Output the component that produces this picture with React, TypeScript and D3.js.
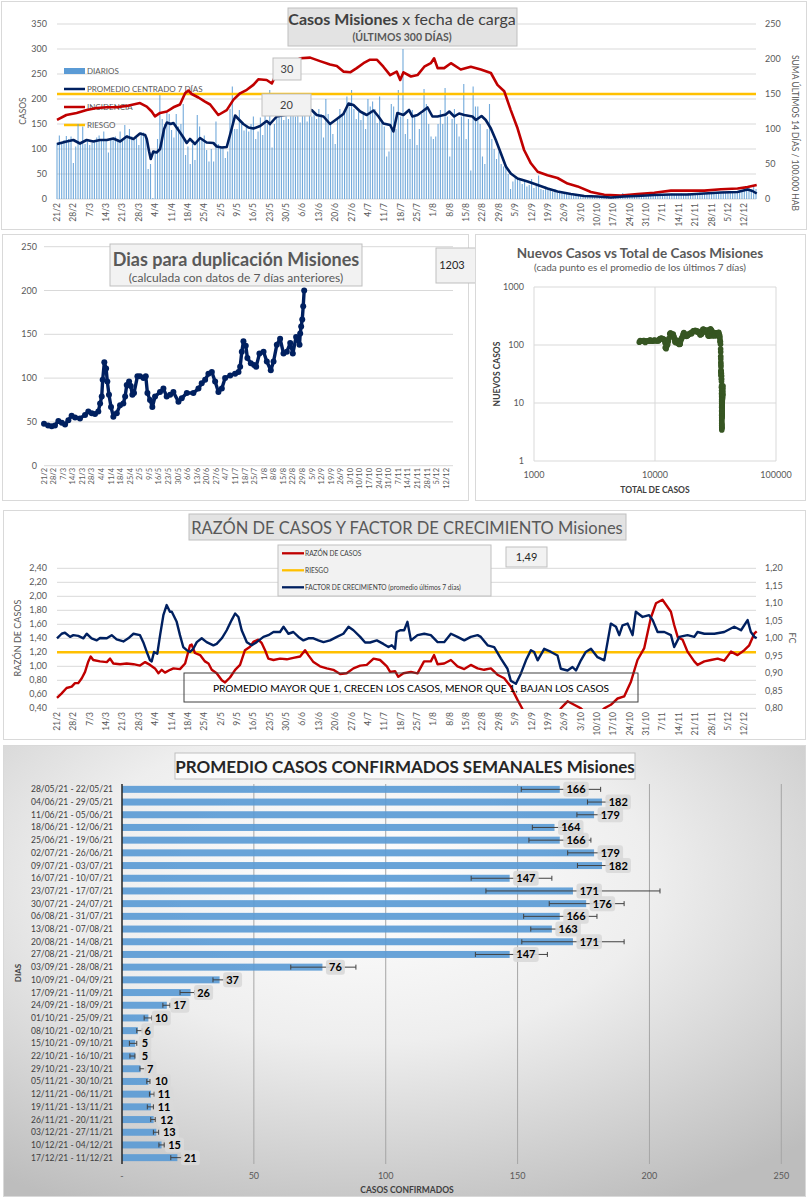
import * as d3 from "d3";

const FONT = "Lato, 'Noto Sans', sans-serif";
const GRIS = "#595959";
const GRID = "#d9d9d9";
const AZUL = "#002060";
const ROJO = "#c00000";
const NARANJA = "#ffc000";
const CELESTE = "#5b9bd5";

// etiquetas semanales del eje x (21/2 a 12/12)
const SEMANAS = [
  "21/2", "28/2", "7/3", "14/3", "21/3", "28/3", "4/4", "11/4", "18/4", "25/4", "2/5",
  "9/5", "16/5", "23/5", "30/5", "6/6", "13/6", "20/6", "27/6", "4/7", "11/7", "18/7",
  "25/7", "1/8", "8/8", "15/8", "22/8", "29/8", "5/9", "12/9", "19/9", "26/9", "3/10",
  "10/10", "17/10", "24/10", "31/10", "7/11", "14/11", "21/11", "28/11", "5/12", "12/12",
];

// casos diarios, 300 días desde 21/2
const DIARIOS = [
  112, 127, 110, 118, 126, 120, 125,
  72, 105, 150, 112, 145, 110, 118,
  108, 112, 115, 123, 127, 120, 135,
  118, 93, 122, 118, 125, 120, 135,
  118, 148, 128, 140, 125, 118, 122,
  108, 133, 133, 125, 60, 70, 2,
  95, 120, 210, 160, 150, 175, 170,
  138, 123, 170, 145, 150, 190, 88,
  105, 70, 110, 78, 168, 145, 120,
  127, 98, 75, 100, 75, 155, 110,
  103, 105, 82, 95, 180, 225, 140,
  140, 178, 150, 137, 145, 135, 150,
  165, 120, 135, 163, 128, 172, 150,
  218, 103, 150, 163, 165, 170, 158,
  185, 160, 175, 210, 165, 180, 153,
  170, 198, 155, 180, 165, 175, 160,
  180, 170, 123, 200, 170, 150, 130,
  110, 160, 180, 170, 175, 205, 185,
  218, 180, 160, 175, 158, 172, 140,
  200, 185, 195, 180, 152, 205, 152,
  145, 85, 95, 190, 185, 140, 218,
  165, 300, 130, 160, 120, 178, 165,
  108, 140, 170, 220, 190, 150, 125,
  120, 125, 150, 178, 150, 222, 165,
  85, 160, 180, 150, 125, 165, 230,
  120, 160, 57, 225, 185, 185, 150,
  85, 70, 140, 190, 120, 100, 80,
  95, 70, 65, 68, 50, 20, 35,
  43, 40, 38, 30, 35, 25, 28,
  40, 22, 30, 47, 20, 18, 25,
  22, 18, 15, 20, 13, 15, 12,
  10, 12, 8, 10, 7, 9, 6,
  7, 5, 6, 4, 6, 5, 4,
  5, 3, 4, 2, 3, 5, 4,
  3, 6, 5, 4, 12, 5, 6,
  6, 5, 7, 6, 8, 7, 6,
  9, 8, 7, 10, 8, 9, 11,
  9, 8, 10, 9, 11, 8, 10,
  9, 11, 10, 8, 12, 10, 11,
  12, 10, 13, 11, 12, 10, 14,
  12, 13, 11, 14, 13, 15, 12,
  14, 16, 13, 15, 14, 17, 16,
  20, 18, 22, 19, 24, 20,
];

// [día, valor]
const PROMEDIO_7D = [
  [0, 110], [4.1, 115], [7, 118], [9.8, 111], [12.7, 118], [15.5, 115], [18.4, 118], [21.3, 118],
  [24.1, 121], [27, 115], [29.8, 125], [32.7, 120], [35.5, 131], [37.7, 128], [38.4, 120], [39.4, 95],
  [40.1, 80], [41.2, 95], [42.6, 93], [44.1, 100], [45.8, 140], [47, 153], [48.6, 150], [49.8, 152],
  [51.9, 138], [53.8, 125], [55.5, 112], [56.9, 120], [59, 110], [61.2, 122], [64, 113], [66.9, 112],
  [68.3, 105], [70.5, 103], [72.6, 104], [74, 128], [76.2, 167], [77.6, 160], [79.7, 150], [81.9, 143],
  [84, 141], [86.9, 146], [89.7, 156], [91.1, 150], [94, 165], [97.6, 168], [101.1, 178], [104, 181],
  [106.1, 170], [108.9, 178], [111.1, 168], [114, 165], [116.8, 150], [119.7, 160], [122.5, 170],
  [124.7, 191], [126.8, 188], [129.7, 175], [132.5, 168], [135.4, 177], [137.5, 165], [139.6, 151],
  [142.5, 148], [143.9, 135], [145.6, 172], [148.2, 168], [150.6, 178], [152, 165], [154.2, 168],
  [156.3, 175], [158.5, 183], [160.6, 165], [162.8, 165], [166.3, 169], [167.8, 175], [169.9, 165],
  [172, 171], [174.2, 168], [177.7, 165], [179.2, 158], [181.6, 166], [183.4, 158], [185.6, 141],
  [187.7, 118], [189.9, 91], [192, 65], [194.1, 51], [197, 41], [201.3, 35], [205.6, 28], [209.8, 21],
  [214.1, 15], [219.8, 10], [225.5, 6], [231.2, 5], [236.9, 3], [242.6, 5], [248.3, 6], [255.5, 8],
  [262.6, 9], [269.7, 9], [276.9, 11], [284, 13], [291.1, 14], [295.4, 19], [297.5, 16], [299.3, 11],
];

const INCIDENCIA = [
  [0, 113], [4, 120], [8.4, 123], [12.7, 127], [17, 130], [21.3, 131], [25.5, 131], [29.8, 133],
  [35.5, 137], [38.4, 132], [40.5, 125], [41.9, 118], [44.1, 123], [47, 125], [49.8, 131], [52.6, 135],
  [54.8, 151], [56.2, 155], [57.6, 150], [60.5, 145], [63.3, 139], [65.5, 135], [69, 120], [72.6, 127],
  [75.5, 142], [78.3, 151], [81.2, 156], [84, 163], [86.1, 171], [89.7, 170], [91.9, 165], [94, 180],
  [96.9, 189], [99.7, 194], [104, 201], [108.3, 202], [112.5, 197], [116.8, 192], [119.7, 190],
  [122.5, 182], [125.4, 181], [128.2, 187], [131.1, 194], [133.9, 199], [136.8, 199], [139.6, 189],
  [142.5, 177], [145.3, 182], [146.8, 170], [148.2, 181], [151.4, 175], [154.2, 177], [157.1, 189],
  [159.9, 194], [161.3, 201], [162.8, 187], [165.6, 187], [168.5, 194], [172.7, 185], [177, 189],
  [181.3, 185], [185.6, 180], [188.4, 163], [191.3, 154], [194.1, 127], [197, 101], [199.8, 70],
  [202.7, 51], [205.6, 39], [209.8, 34], [214.1, 30], [218.4, 22], [222.7, 18], [228.4, 10],
  [234.1, 6], [241.2, 5], [248.3, 7], [255.5, 9], [262.6, 12], [276.9, 12], [284, 14], [291.1, 15],
  [295.4, 17], [299.3, 20],
];
const RIESGO_INCIDENCIA = 150;

// días para duplicación [día, días]
const DUPLICACION = [
  [0, 48], [3, 46], [5.6, 45], [8, 46], [10.5, 51], [13, 49], [15.4, 47], [17.8, 52], [20.2, 57],
  [22.7, 55], [26.3, 54], [30, 58], [32.4, 62], [34.9, 60], [37.3, 59], [39.7, 62], [41, 71],
  [42.2, 79], [42.9, 98], [44.1, 118], [45.4, 111], [46.3, 96], [47.5, 81], [49, 67], [50.7, 56],
  [53.2, 60], [55.6, 69], [58, 71], [59.3, 79], [60.5, 92], [62.2, 96], [63.4, 91], [64.6, 81],
  [65.8, 83], [68.3, 102], [70.2, 102], [72.7, 100], [74.4, 102], [75.6, 83], [77.5, 75], [79.2, 67],
  [81.2, 79], [84.8, 84], [87.3, 88], [89.7, 79], [92.2, 81], [94.6, 84], [98.3, 73], [100.7, 77],
  [104.4, 83], [109.2, 83], [112.9, 88], [115.3, 94], [117.8, 98], [120.2, 105], [122.7, 107],
  [125.1, 96], [127.5, 84], [130, 88], [132.4, 100], [136.1, 103], [139.7, 105], [142.2, 107],
  [143.4, 113], [144.6, 130], [145.8, 142], [147.5, 137], [148.7, 123], [151.2, 117], [153.6, 115],
  [155.1, 113], [157.5, 128], [160.5, 130], [162.9, 119], [165.8, 109], [167.8, 119], [170.2, 138],
  [172.6, 145], [175.1, 128], [177.5, 130], [180, 140], [181.9, 128], [184.3, 147], [186.8, 138],
  [187.3, 151], [188, 159], [188.8, 167], [189.5, 182], [190.2, 200],
];
const DUPLICACION_ACTUAL = "1203";

// total acumulado al 20/2
const TOTAL_INICIAL = 7300;

// razón de casos (eje izq.) y factor de crecimiento (eje der.)
const RAZON = [
  [0, 0.55], [1.9, 0.61], [4.1, 0.69], [6.3, 0.71], [7.7, 0.76], [9.1, 0.76], [10.6, 0.83], [12, 0.92],
  [13.4, 1.07], [14.4, 1.14], [15.5, 1.09], [18.4, 1.07], [21.3, 1.06], [22.7, 1.11], [24.1, 1.04],
  [27, 1.03], [29.8, 1.04], [32.7, 1.03], [35.5, 1.01], [37.7, 1.06], [39.8, 1.02], [41.9, 0.97],
  [43.4, 0.9], [44.8, 0.95], [46.2, 0.91], [48.4, 0.95], [49.8, 0.97], [52.6, 0.96], [54.8, 1.04],
  [56.9, 1.3], [57.6, 1.31], [59, 1.19], [61.2, 1.16], [63.3, 1.07], [64.8, 1.04], [66.2, 0.95],
  [68.3, 0.9], [70.5, 0.8], [71.9, 0.77], [74, 0.84], [76.2, 0.95], [78.3, 1.02], [80.4, 1.23],
  [82.6, 1.28], [84, 1.35], [86.1, 1.38], [87.6, 1.33], [89, 1.23], [90.4, 1.11], [92.6, 1.09],
  [95.4, 1.11], [98.3, 1.1], [101.1, 1.12], [104, 1.14], [106.1, 1.23], [107.5, 1.16], [109.7, 1.06],
  [112.5, 1.0], [115.4, 0.97], [118.2, 0.95], [121.1, 0.89], [123.9, 0.9], [126.8, 0.97], [129.7, 1.01],
  [132.5, 1.02], [135.4, 1.11], [138.2, 1.09], [141.1, 1.0], [142.5, 0.92], [144.6, 0.93], [146, 0.85],
  [148.2, 0.9], [151.4, 0.92], [154.2, 0.9], [157, 1.07], [159.9, 1.07], [161.3, 1.16], [162.8, 1.03],
  [165.6, 1.04], [168.5, 1.09], [171.3, 1.0], [174.2, 0.96], [177, 1.02], [179.9, 0.97], [182.7, 0.95],
  [185.6, 0.97], [188.4, 0.88], [191.3, 0.83], [194.1, 0.71], [197, 0.52], [199.1, 0.39], [201.3, 0.21],
  [204, 0.1], [208.4, 0.05], [212, 0.2], [215.5, 0.4], [218.4, 0.5], [221.2, 0.45], [224.1, 0.4],
  [228.4, 0.26], [231, 0.3], [234.1, 0.4], [236.9, 0.45], [239.8, 0.54], [242.6, 0.57], [245.5, 0.78],
  [248.3, 1.09], [251.2, 1.26], [254, 1.69], [256.2, 1.9], [259, 1.95], [260.5, 1.88], [262.6, 1.78],
  [264, 1.59], [265.5, 1.42], [267.6, 1.38], [269.7, 1.21], [272.6, 1.07], [274, 1.02], [276.9, 1.07],
  [279.7, 1.09], [282.6, 1.11], [285.4, 1.08], [288.3, 1.21], [291.1, 1.16], [294, 1.23], [296.1, 1.3],
  [298.3, 1.47], [299.3, 1.5],
];

const FACTOR = [
  [0, 1.0], [2, 1.013], [3.4, 1.016], [5.6, 1.004], [7, 1.009], [9.1, 1.007], [11.3, 1.0], [12.7, 1.013],
  [14.8, 1.0], [17, 0.994], [18.4, 1.001], [21.3, 1.0], [23.4, 1.009], [25.5, 0.997], [28.4, 0.991],
  [30.5, 1.0], [32.7, 1.013], [35.5, 1.009], [36.9, 0.989], [38.4, 0.961], [39.8, 0.937], [40.5, 0.934],
  [41.5, 0.961], [42.9, 0.956], [44.1, 1.009], [45.5, 1.066], [46.9, 1.095], [48.3, 1.076], [49.1, 1.076],
  [51.2, 1.047], [52.6, 1.009], [54, 0.975], [55.5, 0.966], [56.9, 0.961], [58.3, 0.97], [59.8, 0.989],
  [61.9, 1.0], [64, 0.989], [66.9, 0.98], [68.3, 0.984], [70.5, 1.0], [72.6, 1.023], [74.7, 1.052],
  [76.2, 1.071], [77.6, 1.061], [79, 1.023], [81.2, 0.989], [83.3, 0.98], [85.4, 0.989], [88.3, 1.004],
  [90.4, 1.009], [92.6, 1.018], [95.4, 1.018], [96.9, 1.033], [99, 1.013], [101.1, 1.018], [103.3, 1.004],
  [105.4, 0.994], [107.5, 1.0], [109.7, 1.0], [111.8, 0.994], [114, 0.989], [116.8, 0.994], [119.7, 1.004],
  [122.5, 1.013], [124.7, 1.033], [126.8, 1.023], [129.7, 1.004], [131.8, 0.988], [133.9, 0.988],
  [136.8, 0.994], [139.6, 0.984], [141.8, 0.975], [143.2, 0.98], [144.6, 0.97], [145.3, 1.018],
  [146.8, 1.023], [148.5, 1.023], [149.9, 1.047], [151.4, 0.994], [154.2, 1.009], [157.1, 1.013],
  [159.9, 1.009], [162.8, 0.989], [165.6, 0.989], [168.5, 1.013], [171.3, 1.004], [174.2, 0.994],
  [177, 1.004], [179.9, 1.009], [181.3, 1.004], [184.2, 0.98], [187, 0.975], [189.9, 0.942], [192.7, 0.913],
  [194.1, 0.879], [196.3, 0.87], [198.4, 0.899], [200.6, 0.937], [202.7, 0.966], [204.1, 0.961],
  [205.6, 0.937], [208.4, 0.97], [211.3, 0.961], [214.1, 0.951], [215.5, 0.913], [218.4, 0.908],
  [220.5, 0.918], [222, 0.908], [224.1, 0.937], [226.2, 0.961], [228.4, 0.97], [231.2, 0.946],
  [234.1, 0.937], [236.9, 1.042], [239.1, 1.033], [240.5, 1.009], [241.9, 1.037], [244.1, 1.042],
  [246.2, 1.009], [247.6, 1.076], [250.5, 1.061], [253.3, 1.066], [254.8, 1.052], [256.9, 1.018],
  [259.8, 1.018], [262.6, 1.009], [264, 0.975], [266.2, 1.004], [269.7, 1.009], [272.6, 1.004],
  [274, 1.018], [276.9, 1.013], [281.2, 1.013], [285.4, 1.018], [289.7, 1.033], [292.6, 1.023],
  [295.4, 1.052], [296.8, 1.018], [298.3, 1.004], [299.3, 1.0],
];
const RIESGO_RAZON = 1.2;
const FACTOR_ACTUAL = "1,49";

// promedio semanal
const RANGOS = [
  "28/05/21 - 22/05/21", "04/06/21 - 29/05/21", "11/06/21 - 05/06/21", "18/06/21 - 12/06/21",
  "25/06/21 - 19/06/21", "02/07/21 - 26/06/21", "09/07/21 - 03/07/21", "16/07/21 - 10/07/21",
  "23/07/21 - 17/07/21", "30/07/21 - 24/07/21", "06/08/21 - 31/07/21", "13/08/21 - 07/08/21",
  "20/08/21 - 14/08/21", "27/08/21 - 21/08/21", "03/09/21 - 28/08/21", "10/09/21 - 04/09/21",
  "17/09/21 - 11/09/21", "24/09/21 - 18/09/21", "01/10/21 - 25/09/21", "08/10/21 - 02/10/21",
  "15/10/21 - 09/10/21", "22/10/21 - 16/10/21", "29/10/21 - 23/10/21", "05/11/21 - 30/10/21",
  "12/11/21 - 06/11/21", "19/11/21 - 13/11/21", "26/11/21 - 20/11/21", "03/12/21 - 27/11/21",
  "10/12/21 - 04/12/21", "17/12/21 - 11/12/21",
];
const PROMEDIO_SEMANAL = [166, 182, 179, 164, 166, 179, 182, 147, 171, 176, 166, 163, 171, 147, 76, 37, 26, 17, 10, 6, 5, 5, 7, 10, 11, 11, 12, 13, 15, 21];
const MIN_SEMANAL = [151.4, 176.5, 172.5, 155.6, 154.3, 169, 172.7, 132.4, 138, 162, 152.3, 155, 151.6, 134, 64, 34.5, 22, 15.5, 8.4, 5.6, 2.8, 3, 6.8, 9.4, 10.4, 9.6, 10.9, 11.9, 14, 18.5];
const MAX_SEMANAL = [181.5, 186, 185, 170, 177.8, 185, 186, 163, 204, 190.4, 180.1, 172, 190.4, 161.3, 88.7, 39.5, 27.5, 18.2, 11.3, 7.7, 5.6, 4.9, 9, 10.6, 12.2, 11.9, 12.6, 13.9, 16, 22.7];

const coma = (v: number) => d3.format(".2f")(v).replace(".", ",");

function Caja({ x, y, w, h, fill = "#f2f2f2", stroke = "#bfbfbf" }: any) {
  return <rect x={x} y={y} width={w} height={h} fill={fill} stroke={stroke} strokeWidth={1} />;
}

function PanelCasos() {
  const x = d3.scaleLinear().domain([0, 299]).range([57, 756]);
  const y = d3.scaleLinear().domain([0, 350]).range([199, 24]);
  const y2 = d3.scaleLinear().domain([0, 250]).range([199, 24]);
  const lineaIzq = d3.line<number[]>().x((d) => x(d[0])).y((d) => y(d[1]));
  const lineaDer = d3.line<number[]>().x((d) => x(d[0])).y((d) => y2(d[1]));
  const leyenda = [
    { t: "PROMEDIO CENTRADO 7 DÍAS", c: AZUL, yy: 89 },
    { t: "INCIDENCIA", c: ROJO, yy: 107 },
    { t: "RIESGO", c: NARANJA, yy: 125 },
  ];
  return (
    <g fontFamily={FONT}>
      <rect x={1.5} y={1.5} width={805} height={228} fill="#fff" stroke={GRID} />
      {y.ticks(7).map((t) => (
        <g key={t}>
          <line x1={57} x2={756} y1={y(t)} y2={y(t)} stroke={GRID} />
          <text x={47} y={y(t) + 3} textAnchor="end" fontSize={9} fill={GRIS}>{t}</text>
        </g>
      ))}
      {y2.ticks(5).map((t) => (
        <text key={t} x={765} y={y2(t) + 3} fontSize={9} fill={GRIS}>{t}</text>
      ))}
      <text transform="translate(26,111) rotate(-90)" textAnchor="middle" fontSize={8.5} fill={GRIS}>CASOS</text>
      <text transform="translate(792,133) rotate(90)" textAnchor="middle" fontSize={8.5} fill={GRIS}>
        SUMA  ÚLTIMOS 14 DÍAS / 100.000 HAB
      </text>
      {/* leyenda */}
      <rect x={64} y={68} width={21} height={6} fill={CELESTE} />
      <text x={87} y={73.5} fontSize={8} fill={GRIS}>DIARIOS</text>
      {leyenda.map((l) => (
        <g key={l.t}>
          <line x1={64} x2={85} y1={l.yy} y2={l.yy} stroke={l.c} strokeWidth={2.5} />
          <text x={87} y={l.yy + 3} fontSize={8} fill={GRIS}>{l.t}</text>
        </g>
      ))}
      {DIARIOS.map((v, i) => (
        <rect key={i} x={x(i) - 0.55} y={y(v)} width={1.1} height={y(0) - y(v)} fill={CELESTE} opacity={0.85} />
      ))}
      <line x1={57} x2={756} y1={y2(RIESGO_INCIDENCIA)} y2={y2(RIESGO_INCIDENCIA)} stroke={NARANJA} strokeWidth={2.5} />
      <path d={lineaDer(INCIDENCIA) || ""} fill="none" stroke={ROJO} strokeWidth={2.6} strokeLinejoin="round" />
      <path d={lineaIzq(PROMEDIO_7D) || ""} fill="none" stroke={AZUL} strokeWidth={2.6} strokeLinejoin="round" />
      {SEMANAS.map((s, k) => (
        <text key={s} transform={`translate(${x(k * 7) + 3},203) rotate(-90)`} textAnchor="end" fontSize={8.5} fill={GRIS}>{s}</text>
      ))}
      {/* título */}
      <Caja x={288} y={8} w={229} h={38} fill="#e3e3e3" />
      <text x={402} y={25} textAnchor="middle" fontSize={16} fill="#404040">
        <tspan fontWeight="bold">Casos  Misiones</tspan>
        <tspan>  x fecha  de carga</tspan>
      </text>
      <text x={402} y={40.5} textAnchor="middle" fontSize={10.5} fontWeight="bold" fill={GRIS}>(ÚLTIMOS 300 DÍAS)</text>
      <Caja x={273} y={58} w={28} h={22} />
      <text x={287} y={73} textAnchor="middle" fontSize={11} fill="#404040">30</text>
      <Caja x={262} y={94} w={49} h={22} />
      <text x={286.5} y={109} textAnchor="middle" fontSize={11} fill="#404040">20</text>
    </g>
  );
}

function PanelDuplicacion() {
  const x = d3.scaleLinear().domain([0, 299]).range([44, 453]);
  const y = d3.scaleLinear().domain([0, 250]).range([465.7, 246.7]);
  const linea = d3.line<number[]>().x((d) => x(d[0])).y((d) => y(d[1]));
  return (
    <g fontFamily={FONT}>
      <rect x={2.5} y={234.5} width={466} height={266} fill="#fff" stroke={GRID} />
      {y.ticks(5).map((t) => (
        <g key={t}>
          <line x1={44} x2={453} y1={y(t)} y2={y(t)} stroke={GRID} />
          <text x={37} y={y(t) + 3} textAnchor="end" fontSize={9} fill={GRIS}>{t}</text>
        </g>
      ))}
      {SEMANAS.map((s, k) => (
        <text key={s} transform={`translate(${x(k * 7) + 2.5},468) rotate(-90)`} textAnchor="end" fontSize={7.5} fill={GRIS}>{s}</text>
      ))}
      <path d={linea(DUPLICACION) || ""} fill="none" stroke={AZUL} strokeWidth={3.4} strokeLinejoin="round" />
      {DUPLICACION.map((d, i) => (
        <circle key={i} cx={x(d[0])} cy={y(d[1])} r={3} fill={AZUL} />
      ))}
      <Caja x={110} y={244} w={252} h={42} />
      <text x={236} y={266} textAnchor="middle" fontSize={18} fontWeight="bold" fill={GRIS}>Dias para duplicación Misiones</text>
      <text x={236} y={281.5} textAnchor="middle" fontSize={12} fill={GRIS}>(calculada con datos de 7 días anteriores)</text>
      <Caja x={436} y={248} w={40} h={35} />
      <text x={452} y={269} textAnchor="middle" fontSize={11} fill="#262626">{DUPLICACION_ACTUAL}</text>
    </g>
  );
}

function PanelDispersion() {
  let total = TOTAL_INICIAL;
  const puntos = DIARIOS.map((v, i) => {
    total += v;
    const prom = d3.mean(DIARIOS.slice(Math.max(0, i - 6), i + 1)) as number;
    return [total, prom];
  });
  const x = d3.scaleLog().domain([1000, 100000]).range([534, 776]);
  const y = d3.scaleLog().domain([1, 1000]).range([461, 287]);
  const xt = [1000, 10000, 100000];
  const yt = [1, 10, 100, 1000];
  return (
    <g fontFamily={FONT}>
      <rect x={475.5} y={234.5} width={330} height={266} fill="#fff" stroke={GRID} />
      {yt.map((t) => (
        <g key={t}>
          <line x1={534} x2={776} y1={y(t)} y2={y(t)} stroke={GRID} />
          <text x={524} y={y(t) + 3} textAnchor="end" fontSize={9} fill={GRIS}>{t}</text>
        </g>
      ))}
      {xt.map((t) => (
        <g key={t}>
          <line x1={x(t)} x2={x(t)} y1={287} y2={461} stroke={GRID} />
          <text x={x(t)} y={478} textAnchor="middle" fontSize={9} fill={GRIS}>{t}</text>
        </g>
      ))}
      {puntos.map((p, i) => (
        <circle key={i} cx={x(p[0])} cy={y(p[1])} r={2.8} fill="#375623" />
      ))}
      <text x={640} y={258} textAnchor="middle" fontSize={13.5} fontWeight="bold" fill={GRIS}>Nuevos Casos vs Total de Casos Misiones</text>
      <text x={640} y={271} textAnchor="middle" fontSize={10} fill={GRIS}>(cada punto es el promedio de los últimos 7 días)</text>
      <text transform="translate(500,374) rotate(-90)" textAnchor="middle" fontSize={8.5} fontWeight="bold" fill="#404040">NUEVOS  CASOS</text>
      <text x={655} y={493} textAnchor="middle" fontSize={8.5} fontWeight="bold" fill="#404040">TOTAL DE CASOS</text>
    </g>
  );
}

function PanelRazon() {
  const x = d3.scaleLinear().domain([0, 299]).range([57, 756]);
  const yL = d3.scaleLinear().domain([0.4, 2.4]).range([708.3, 568.3]);
  const yR = d3.scaleLinear().domain([0.8, 1.2]).range([708.3, 568.3]);
  const lineaL = d3.line<number[]>().x((d) => x(d[0])).y((d) => yL(d[1]));
  const lineaR = d3.line<number[]>().x((d) => x(d[0])).y((d) => yR(d[1]));
  const ticksL = d3.range(0, 11).map((i) => 0.4 + i * 0.2);
  const ticksR = d3.range(0, 9).map((i) => 0.8 + i * 0.05);
  return (
    <g fontFamily={FONT}>
      <defs>
        <clipPath id="clipRazon">
          <rect x={50} y={560} width={712} height={149} />
        </clipPath>
      </defs>
      <rect x={3.5} y={510.5} width={802} height={229} fill="#fff" stroke={GRID} />
      {ticksL.map((t) => (
        <g key={t}>
          <line x1={57} x2={756} y1={yL(t)} y2={yL(t)} stroke={GRID} />
          <text x={47} y={yL(t) + 3} textAnchor="end" fontSize={9} fill={GRIS}>{coma(t)}</text>
        </g>
      ))}
      {ticksR.map((t) => (
        <text key={t} x={765} y={yR(t) + 3} fontSize={9} fill={GRIS}>{coma(t)}</text>
      ))}
      <text transform="translate(21,638) rotate(-90)" textAnchor="middle" fontSize={9} fill={GRIS}>RAZÓN  DE CASOS</text>
      <text transform="translate(789,638) rotate(90)" textAnchor="middle" fontSize={9} fill={GRIS}>FC</text>
      {SEMANAS.map((s, k) => (
        <text key={s} transform={`translate(${x(k * 7) + 3},712) rotate(-90)`} textAnchor="end" fontSize={8.5} fill={GRIS}>{s}</text>
      ))}
      <g clipPath="url(#clipRazon)">
        <line x1={57} x2={756} y1={yL(RIESGO_RAZON)} y2={yL(RIESGO_RAZON)} stroke={NARANJA} strokeWidth={2.5} />
        <path d={lineaL(RAZON) || ""} fill="none" stroke={ROJO} strokeWidth={2.4} strokeLinejoin="round" />
        <path d={lineaR(FACTOR) || ""} fill="none" stroke={AZUL} strokeWidth={2.4} strokeLinejoin="round" />
      </g>
      <rect x={184} y={673} width={454} height={29} fill="none" stroke="#404040" strokeWidth={1} />
      <text x={411} y={691.5} textAnchor="middle" fontSize={10.2} fill="#000">
        PROMEDIO MAYOR QUE 1, CRECEN LOS CASOS, MENOR QUE 1, BAJAN LOS CASOS
      </text>
      <Caja x={189} y={514} w={437} h={26} fill="#e3e3e3" />
      <text x={407} y={533.5} textAnchor="middle" fontSize={16.5} fill={GRIS}>RAZÓN DE CASOS Y FACTOR DE CRECIMIENTO Misiones</text>
      <Caja x={278} y={545} w={213} h={51} />
      {[
        { t: "RAZÓN DE CASOS", c: ROJO, yy: 553.3 },
        { t: "RIESGO", c: NARANJA, yy: 570.3 },
        { t: "FACTOR DE CRECIMIENTO (promedio últimos 7 días)", c: AZUL, yy: 587.3 },
      ].map((l) => (
        <g key={l.t}>
          <line x1={282} x2={304} y1={l.yy} y2={l.yy} stroke={l.c} strokeWidth={2.3} />
          <text x={305} y={l.yy + 2.5} fontSize={6.6} fill="#404040">{l.t}</text>
        </g>
      ))}
      <Caja x={506} y={547} w={41} h={20} />
      <text x={526.5} y={561} textAnchor="middle" fontSize={11} fill="#262626">{FACTOR_ACTUAL}</text>
    </g>
  );
}

function PanelSemanal() {
  const x = d3.scaleLinear().domain([0, 250]).range([122, 781.3]);
  const y = d3.scaleBand().domain(RANGOS).range([783, 1164]).paddingInner(0.45).paddingOuter(0.225);
  const bw = y.bandwidth();
  return (
    <g fontFamily={FONT}>
      <defs>
        <radialGradient id="fondoSemanal" cx="0.45" cy="0.3" r="0.8">
          <stop offset="0" stopColor="#ffffff" />
          <stop offset="0.45" stopColor="#eeeeee" />
          <stop offset="1" stopColor="#bdbdbd" />
        </radialGradient>
      </defs>
      <rect x={3.5} y={745.5} width={802} height={451} fill="url(#fondoSemanal)" stroke={GRID} />
      {x.ticks(5).filter((t) => t > 0).map((t) => (
        <line key={t} x1={x(t)} x2={x(t)} y1={784} y2={1164} stroke="#a6a6a6" />
      ))}
      {x.ticks(5).map((t) => (
        <text key={t} x={x(t)} y={1179} textAnchor="middle" fontSize={9} fill={GRIS}>{t === 0 ? "-" : t}</text>
      ))}
      {RANGOS.map((r, i) => {
        const cy = (y(r) as number) + bw / 2;
        const v = PROMEDIO_SEMANAL[i];
        const lbl = String(v);
        const w = lbl.length * 6.5 + 6;
        return (
          <g key={r}>
            <text x={113} y={cy + 3} textAnchor="end" fontSize={8.5} fill="#404040">{r}</text>
            <rect x={x(0)} y={y(r)} width={x(v) - x(0)} height={bw} fill={CELESTE} opacity={0.92} />
            <line x1={x(MIN_SEMANAL[i])} x2={x(MAX_SEMANAL[i])} y1={cy} y2={cy} stroke="#404040" />
            <line x1={x(MIN_SEMANAL[i])} x2={x(MIN_SEMANAL[i])} y1={cy - 2.5} y2={cy + 2.5} stroke="#404040" />
            <line x1={x(MAX_SEMANAL[i])} x2={x(MAX_SEMANAL[i])} y1={cy - 2.5} y2={cy + 2.5} stroke="#404040" />
            <rect x={x(v) + 3.5} y={cy - 7.5} width={w} height={15} rx={3} fill="#d9d9d9" opacity={0.9} />
            <text x={x(v) + 3.5 + w / 2} y={cy + 4} textAnchor="middle" fontSize={11} fontWeight="bold" fill="#000">{lbl}</text>
          </g>
        );
      })}
      <line x1={x(0)} x2={x(0)} y1={784} y2={1164} stroke="#262626" strokeWidth={1.5} />
      <Caja x={175} y={753} w={460} h={26} fill="#fafafa" stroke="#bfbfbf" />
      <text x={405} y={772.5} textAnchor="middle" fontSize={17} fontWeight="bold" fill="#262626">
        PROMEDIO CASOS CONFIRMADOS SEMANALES Misiones
      </text>
      <text transform="translate(21,973) rotate(-90)" textAnchor="middle" fontSize={8} fontWeight="bold" fill="#404040">DIAS</text>
      <text x={407} y={1193} textAnchor="middle" fontSize={8.5} fontWeight="bold" fill="#404040">CASOS CONFIRMADOS</text>
    </g>
  );
}

export default function App() {
  return (
    <svg
      width={808}
      height={1200}
      viewBox="0 0 808 1200"
      style={{ position: "absolute", left: 0, top: 0, display: "block", background: "#fff" }}
    >
      <PanelCasos />
      <PanelDuplicacion />
      <PanelDispersion />
      <PanelRazon />
      <PanelSemanal />
    </svg>
  );
}
